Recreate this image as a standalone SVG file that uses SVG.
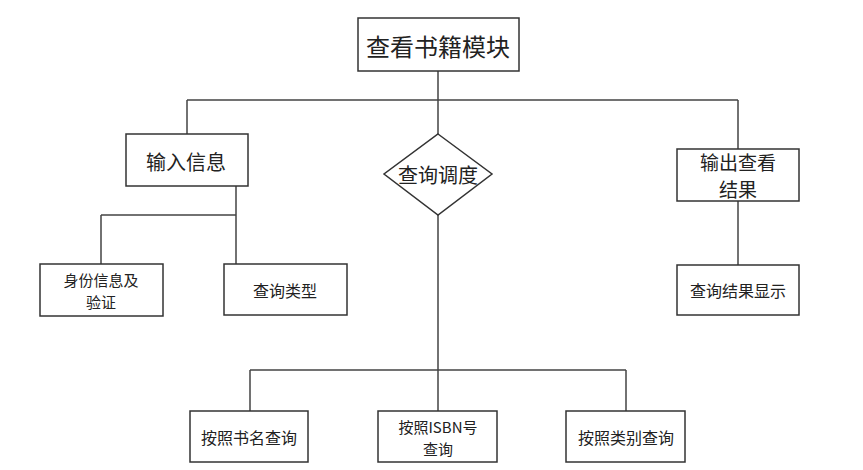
<svg xmlns="http://www.w3.org/2000/svg" width="863" height="470" viewBox="0 0 863 470">
<style>
.box{fill:#fff;stroke:#333;stroke-width:1.5}
.ln{fill:none;stroke:#444;stroke-width:1.5}
text{font-family:"Noto Sans CJK SC","Liberation Sans",sans-serif;fill:#222;text-anchor:middle;dominant-baseline:central}
.t22{font-size:24px}
.t18{font-size:20px}
.t18b{font-size:19px}
.t15{font-size:16px}
.t15b{font-size:15px}
</style>
<rect width="863" height="470" fill="#fff"/>
<g id="connectors" class="ln">
<path d="M438 71V100M187 100H738M187 100V134M438 100V134M738 100V149"/>
<path d="M236 186V264M101 215H236M101 215V264"/>
<path d="M738 201V265"/>
<path d="M438 215V411M250 370H626M250 370V411M626 370V411"/>
</g>
<g id="n-root"><rect class="box" x="358" y="18" width="161" height="53"/><text class="t22" x="438" y="45">查看书籍模块</text></g>
<g id="n-input"><rect class="box" x="126" y="134" width="122" height="52"/><text class="t18" x="186" y="161">输入信息</text></g>
<g id="n-dispatch"><polygon class="box" points="438,134 492,174 438,215 384,174"/><text class="t18" x="438" y="174">查询调度</text></g>
<g id="n-output"><rect class="box" x="677" y="149" width="122" height="52"/><text class="t18b" x="738" y="161">输出查看</text><text class="t18b" x="738" y="188">结果</text></g>
<g id="n-identity"><rect class="box" x="40" y="264" width="123" height="52"/><text class="t15b" x="101" y="279">身份信息及</text><text class="t15b" x="101" y="301">验证</text></g>
<g id="n-type"><rect class="box" x="224" y="264" width="123" height="51"/><text class="t15" x="285" y="290">查询类型</text></g>
<g id="n-result"><rect class="box" x="677" y="265" width="122" height="50"/><text class="t15" x="738" y="290">查询结果显示</text></g>
<g id="n-byname"><rect class="box" x="190" y="411" width="118" height="51"/><text class="t15" x="249" y="437">按照书名查询</text></g>
<g id="n-byisbn"><rect class="box" x="378" y="411" width="119" height="51"/><text class="t15b" x="438" y="426">按照ISBN号</text><text class="t15b" x="438" y="448">查询</text></g>
<g id="n-bycat"><rect class="box" x="566" y="411" width="119" height="51"/><text class="t15" x="626" y="437">按照类别查询</text></g>
</svg>
